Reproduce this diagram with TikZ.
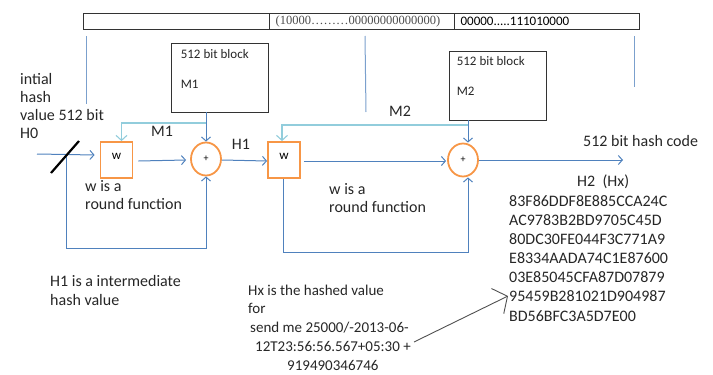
\documentclass[tikz,border=0pt]{standalone}
\usepackage{fontspec}
\setmainfont{Carlito}
\newfontfamily\serifbar{Liberation Serif}
\usetikzlibrary{arrows.meta,shapes.geometric,calc}
\definecolor{orng}{HTML}{F79646}
\definecolor{midblue}{HTML}{4F81BD}
\definecolor{lightcy}{HTML}{92CDDC}
\definecolor{darkgr}{HTML}{505050}
\begin{document}
\begin{tikzpicture}[x=1pt,y=-1pt,
  txt/.style={font=\fontsize{16}{18}\selectfont, inner sep=0pt, align=left, anchor=base west, text=black!85},
  wbox/.style={draw=orng, line width=1.8pt, minimum width=32pt, minimum height=36pt, inner sep=0pt,
    font=\fontsize{13}{14}\selectfont, text height=7pt, text depth=9pt},
  sumc/.style={ellipse, draw=orng, line width=1.8pt, minimum width=30pt, minimum height=33pt, inner sep=0pt,
    font=\fontsize{10}{12}\selectfont},
  blk/.style={draw=black!80, line width=0.8pt, minimum width=97pt, minimum height=69pt, inner sep=0pt},
  blklab/.style={anchor=north west, inner sep=0pt, align=left, font=\fontsize{13}{30}\selectfont, text=black!85},
  barcell/.style={draw=black!80, line width=1.2pt, minimum height=16pt, inner ysep=0pt, inner xsep=6pt,
    anchor=north west, align=left, font=\fontsize{13}{14}\selectfont},
  bl/.style={draw=midblue, line width=1pt},
  cy/.style={draw=lightcy, line width=1.1pt},
  tip/.style={-{Straight Barb[length=4pt,width=9pt]}},
  cytip/.style={-{Straight Barb[length=5pt,width=11pt]}},
]
\useasboundingbox (0,0) rectangle (713,375);

% top bar
\node[barcell, text width=174pt] (bar1) at (83,13) {};
\node[barcell, text width=173pt, text=black!70] (bar2) at (269,13) {\serifbar\fontsize{12.5}{14}\selectfont(10000………00000000000000)};
\node[barcell, text width=173pt] (bar3) at (454,13) {00000.....111010000};

% guide lines under the bar
\draw[draw=midblue!75, line width=1pt] (86,36) -- (86,104);
\draw[draw=midblue!75, line width=1pt] (365,36) -- (366,112);
\draw[draw=midblue!75, line width=1pt] (634,36) -- (634,87);

% message blocks
\node[blk, label={[blklab, xshift=10pt, yshift=-7pt]north west:512 bit block\\M1}] (m1) at (219.5,77.5) {};
\node[blk, label={[blklab, xshift=8pt, yshift=-6pt]north west:512 bit block\\M2}] (m2) at (497.5,85.5) {};

% round functions and adders
\node[wbox] (w1) at (116.5,160) {w};
\node[sumc] (c1) at (206,159) {+};
\node[wbox] (w2) at (284,160) {w};
\node[sumc] (c2) at (463,160) {+};

% labels (base anchor = baseline of the last line)
\node[txt] (init) at (20,138) {intial\\hash\\value 512 bit\\H0};
\node[font=\fontsize{16}{18}\selectfont, inner sep=0pt, text=black!85] (lm1) at (162,131) {M1};
\node[font=\fontsize{16}{18}\selectfont, inner sep=0pt, text=black!85] (lm2) at (400,111) {M2};
\node[font=\fontsize{16}{18}\selectfont, inner sep=0pt, text=black!85] (lh1) at (241,144) {H1};
\node[txt] (rf1) at (85,209) {w is a\\round function};
\node[txt] (rf2) at (329,212) {w is a\\round function};
\node[txt] (hc) at (583,146) {512 bit hash code};
\node[txt] (h2) at (577,186) {H2\ \ (Hx)};
\node[txt, font=\fontsize{16}{19.1}\selectfont] (hash) at (509,321)
  {83F86DDF8E885CCA24C\\AC9783B2BD9705C45D\\80DC30FE044F3C771A9\\E8334AADA74C1E87600\\03E85045CFA87D07879\\95459B281021D904987\\BD56BFC3A5D7E00};
\node[txt, font=\fontsize{16}{19}\selectfont] (h1txt) at (50,305) {H1 is a intermediate\\hash value};
\node[txt, font=\fontsize{15}{18.75}\selectfont] (hxtxt) at (248,370)
  {Hx is the hashed value\\for\\\hspace*{2pt}send me 25000/-2013-06-\\\hspace*{7pt}12T23:56:56.567+05:30 +\\\hspace*{39pt}919490346746};

% coordinates
\coordinate (h0in) at (37,154);
\coordinate (fb1) at (66,154.5);
\coordinate (fb1b) at (206,248);
\coordinate (fb2) at (468,252);
\coordinate (c2t) at ([xshift=5pt]c2.north);
\coordinate (c2b) at ([xshift=5pt]c2.south);
\coordinate (m1j) at (206,123);
\coordinate (w1t) at ([xshift=5pt]w1.north);
\coordinate (m2j) at (468,125);
\coordinate (w2t) at ([xshift=-2pt]w2.north);
\coordinate (outp) at (623,160);
\coordinate (hxs) at (414,342);
\coordinate (hxt) at (508,296);
\coordinate (sl1) at (51,173);
\coordinate (sl2) at (79,141);

% main flow
\draw[bl,tip] (h0in) -- ([xshift=-5pt,yshift=5pt]w1.west);
\draw[bl,tip] ([xshift=5pt,yshift=-1pt]w1.east) -- ([xshift=-4pt,yshift=-1pt]c1.west);
\draw[bl,tip] ([yshift=-1pt]c1.east) -- ([yshift=-1pt]w2.west);
\draw[bl,tip] ([xshift=3pt,yshift=-1pt]w2.east) -- ([xshift=-1pt,yshift=-1pt]c2.west);
\draw[bl,tip] (c2.east) -- (outp);

% feedback
\draw[bl,tip] (fb1) -- (fb1 |- fb1b) -- (fb1b) -- (c1.south);
\draw[bl,tip] ([xshift=-1pt]w2.south) |- (fb2) -- (c2b);

% message inputs
\draw[bl,tip] (c1.north |- m1.south) -- (c1.north);
\draw[bl,tip] (c2t |- m2.south) -- (c2t);
\draw[cy,cytip] (m1j) -| (w1t);
\draw[cy,cytip] (m2j) -| (w2t);

% slash on input
\draw[line width=2.2pt] (sl1) -- (sl2);

% pointer to hash
\draw[draw=darkgr, line width=0.9pt, -{Straight Barb[length=11pt,width=28pt]}] (hxs) -- (hxt);
\end{tikzpicture}
\end{document}
